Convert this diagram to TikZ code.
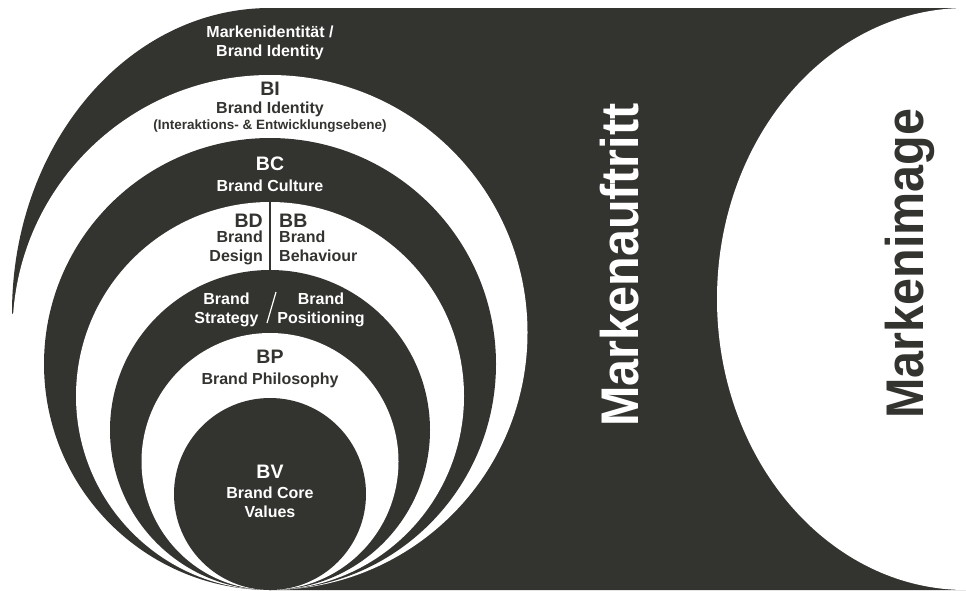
\documentclass[tikz,border=0pt]{standalone}
\usepackage{fontspec}
\usepackage{graphicx}
\setmainfont{Liberation Sans}
\definecolor{markdark}{RGB}{51,51,48}

\begin{document}
\begin{tikzpicture}[x=1pt,y=-1pt,
    desc/.style={font=\bfseries\fontsize{16}{18.5}\selectfont,inner sep=0pt,align=center},
    note/.style={font=\bfseries\fontsize{13.5}{15}\selectfont,inner sep=0pt,anchor=base},
    abbr/.style={font=\bfseries\fontsize{19.5}{22}\selectfont,inner sep=0pt,anchor=base},
    big/.style={font=\bfseries\fontsize{53}{53}\selectfont,inner sep=0pt,rotate=90,anchor=base}]
  \useasboundingbox (0,0) rectangle (966,590);
  \fill[markdark] (12,313) arc[start angle=180,end angle=270,x radius=258,y radius=305]
    -- (966,8) -- (966,590) -- (270,590) -- cycle;
  \foreach \r/\c in {257.5/white, 226/markdark, 194/white,
                     160/markdark, 128.5/white, 96/markdark}
    \fill[\c] (270,{590-\r}) circle[radius=\r];
  \fill[white] (966,299) ellipse[x radius=249,y radius=291];

  \coordinate (bdtop) at (270,202);
  \coordinate (bdbot) at (270,270);
  \draw[markdark,line width=2pt] (bdtop) -- (bdbot);
  \coordinate (slashtop) at (276,292);
  \coordinate (slashbot) at (267,323);
  \draw[white,line width=1.2pt] (slashtop) -- (slashbot);

  \node[desc,white] (mi) at (270,43) {Markenidentität /\\Brand Identity};
  \node[abbr,markdark] (bi) at (270,95.7) {BI};
  \node[desc,markdark,anchor=base] (bitext) at (270,113.3) {Brand Identity};
  \node[note,markdark] (binote) at (270,129.8) {(Interaktions- \& Entwicklungsebene)};
  \node[abbr,white] (bc) at (270,170.7) {BC};
  \node[desc,white,anchor=base] (bctext) at (270,191.8) {Brand Culture};
  \node[abbr,markdark,anchor=base east] (bd) at (263,227.2) {BD};
  \node[desc,markdark,align=right,anchor=east] (bdtext) at (263,248) {Brand\\Design};
  \node[abbr,markdark,anchor=base west] (bb) at (279,227.2) {BB};
  \node[desc,markdark,align=left,anchor=west] (bbtext) at (279,246.3) {Brand\\Behaviour};
  \node[desc,white] (strategy) at (226.5,309.7) {Brand\\Strategy};
  \node[desc,white] (positioning) at (321,309.7) {Brand\\Positioning};
  \node[abbr,markdark] (bp) at (270,363.7) {BP};
  \node[desc,markdark,anchor=base] (bptext) at (270,384.8) {Brand Philosophy};
  \node[abbr,white] (bv) at (270,478.7) {BV};
  \node[desc,white] (bvtext) at (270,502.5) {\fontsize{16}{20}\selectfont Brand Core\\Values};

  \node[big,white] (auftritt) at (638,265) {\scalebox{0.915}[1]{Markenauftritt}};
  \node[big,markdark] (image) at (923,263.5) {\scalebox{0.915}[1]{Markenimage}};
\end{tikzpicture}
\end{document}
